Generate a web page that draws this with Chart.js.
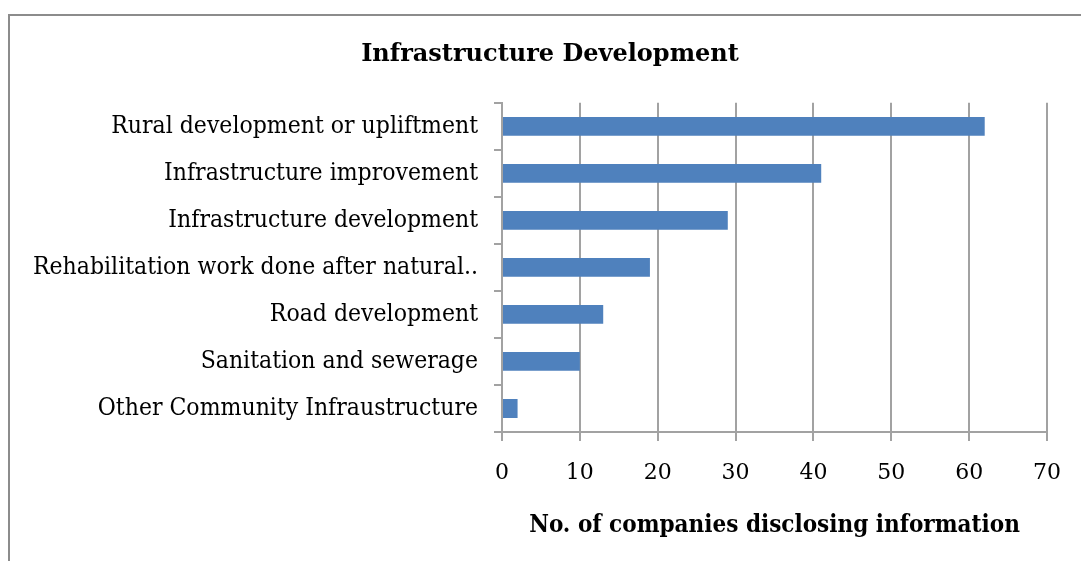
<!DOCTYPE html>
<html>
<head>
<meta charset="utf-8">
<script src="https://cdn.jsdelivr.net/npm/chart.js@4/dist/chart.umd.min.js"></script>
<style>
  html, body { margin: 0; padding: 0; background: #fff; overflow: hidden; }
  #frame {
    position: absolute;
    left: 8px;
    top: 14px;
    width: 1080px;
    height: 560px;
    border: 2px solid #8c8c8c;
  }
  canvas { display: block; }
</style>
</head>
<body>
<div id="frame">
  <canvas id="infraChart" width="1080" height="560"></canvas>
</div>
<script>
const categories = [
  'Rural development or upliftment',
  'Infrastructure improvement',
  'Infrastructure development',
  'Rehabilitation work done after natural..',
  'Road development',
  'Sanitation and sewerage',
  'Other Community Infraustructure'
];
const companyCounts = [62, 41, 29, 19, 13, 10, 2];
const xTicks = [0, 10, 20, 30, 40, 50, 60, 70];

const serif = "'DejaVu Serif', serif";
const serifNarrow = "'DejaVu Serif Condensed', 'DejaVu Serif', serif";
const gridGray = '#a2a2a2';

document.addEventListener('DOMContentLoaded', () => {
  const ctx = document.getElementById('infraChart').getContext('2d');

  new Chart(ctx, {
    type: 'bar',
    data: {
      labels: categories,
      datasets: [{
        data: companyCounts,
        backgroundColor: '#4f81bd',
        borderWidth: 0,
        barPercentage: 0.8,
        categoryPercentage: 0.5
      }]
    },
    options: {
      indexAxis: 'y',
      responsive: false,
      animation: false,
      layout: { padding: { left: 0, right: 0, top: 0, bottom: 36 } },
      plugins: {
        legend: { display: false },
        tooltip: { enabled: false },
        title: {
          display: true,
          text: 'Infrastructure Development',
          color: '#000',
          font: { family: serif, size: 24, weight: 'bold' },
          padding: { top: 24, bottom: 34 }
        }
      },
      scales: {
        x: {
          min: 0,
          max: 70,
          afterBuildTicks: (scale) => {
            scale.ticks = xTicks.map(v => ({ value: v }));
          },
          afterFit: (scale) => { scale.height = 108; },
          grid: {
            color: gridGray,
            lineWidth: 2,
            drawTicks: true,
            tickLength: 9,
            tickColor: gridGray
          },
          border: { display: true, color: gridGray, width: 2 },
          ticks: {
            color: '#000',
            padding: 19,
            font: { family: serif, size: 22 }
          },
          title: {
            display: true,
            text: 'No. of companies disclosing information',
            color: '#000',
            padding: 0,
            font: { family: serifNarrow, size: 24, weight: 'bold' }
          }
        },
        y: {
          afterFit: (scale) => { scale.width = 492; },
          grid: {
            display: true,
            drawOnChartArea: false,
            drawTicks: true,
            tickLength: 8,
            lineWidth: 2,
            tickColor: gridGray,
            color: gridGray
          },
          border: { display: true, color: gridGray, width: 2 },
          ticks: {
            color: '#000',
            padding: 16,
            autoSkip: false,
            font: { family: serifNarrow, size: 24.5 }
          }
        },
        // empty right-hand strip so the plot ends short of the frame edge
        yGap: {
          type: 'category',
          position: 'right',
          afterFit: (scale) => { scale.width = 43; },
          grid: { display: false },
          border: { display: false },
          ticks: { display: false }
        }
      }
    }
  });
});
</script>
</body>
</html>
